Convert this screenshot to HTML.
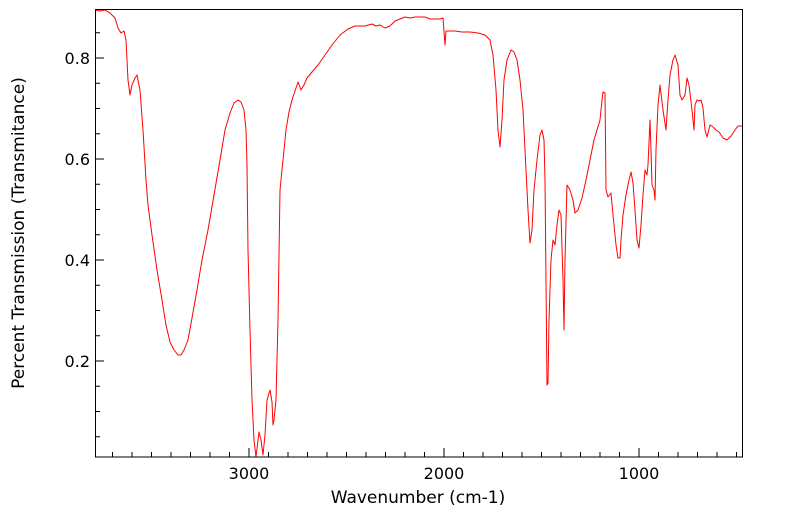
<!DOCTYPE html>
<html><head><meta charset="utf-8"><style>
body{margin:0;background:#fff}
svg{display:block;font-family:"DejaVu Sans","Liberation Sans",sans-serif}
</style></head><body>
<svg width="799" height="516" viewBox="0 0 799 516">
<rect width="799" height="516" fill="#fff"/>
<path stroke="#000" stroke-width="1" fill="none" d="
M112.5,457v-5 M132,457v-5 M151.5,457v-5 M171,457v-5 M190.5,457v-5 M210,457v-5 M229.5,457v-5 M249,457v-9 M268.5,457v-5 M288,457v-5 M307.5,457v-5 M327,457v-5 M346.5,457v-5 M366,457v-5 M385.5,457v-5 M405,457v-5 M424.5,457v-5 M444,457v-9 M463.5,457v-5 M483,457v-5 M502.5,457v-5 M522,457v-5 M541.5,457v-5 M561,457v-5 M580.5,457v-5 M600,457v-5 M619.5,457v-5 M639,457v-9 M658.5,457v-5 M678,457v-5 M697.5,457v-5 M717,457v-5 M736.5,457v-5
M95,436.75h5 M95,411.5h5 M95,386.25h5 M95,361h9 M95,335.75h5 M95,310.5h5 M95,285.25h5 M95,260h9 M95,234.75h5 M95,209.5h5 M95,184.25h5 M95,159h9 M95,133.75h5 M95,108.5h5 M95,83.25h5 M95,58h9 M95,32.75h5"/>
<polyline fill="none" stroke="#ff0000" stroke-width="1" stroke-linejoin="round" points="95,10 100,11 105,10 110,13 115,18 118,28 121,33 124,31 126,40 128,80 130,95 132,85 135,78 137,75 140,90 143,130 146,180 148,205 152,235 157,270 162,300 166,325 170,342 174,350 178,355 181,355 184,350 188,340 192,318 197,290 202,260 208,230 214,195 220,160 225,130 230,113 234,103 238,100 241,102 244,110 246,130 247,165 248,250 250,330 252,400 254,440 256,457 258,440 259,432 261,440 263,455 265,435 267,400 270,390 272,402 273,425 274,420 276,400 278,320 280,190 283,160 286,130 289,112 292,100 296,88 298,82 301,90 304,85 307,78 312,72 318,65 325,55 332,45 340,35 348,29 355,26 365,26 372,24 376,26 380,25 385,28 390,26 395,21 400,19 405,17 410,18 415,17 425,17 430,19 440,19 443,18 445,45 446,31 455,31 462,32 470,32 478,33 485,35 490,40 493,55 496,90 498,130 500,147 502,120 504,80 507,60 511,50 514,52 517,60 520,80 523,110 526,170 528,210 530,243 532,230 534,190 537,160 540,135 542,130 544,140 545,180 546,280 547,385 548,383 549,320 551,260 553,240 555,245 557,225 559,210 561,215 563,280 564,330 565,260 567,185 570,190 573,200 575,213 578,210 582,198 586,180 590,160 594,140 597,130 600,120 602,100 603,92 605,93 606,190 608,197 611,193 613,215 616,245 618,258 620,258 621,240 623,215 626,195 629,180 631,172 633,183 635,210 637,240 639,248 641,225 643,195 645,170 647,175 648,165 650,120 651,150 652,185 654,190 655,200 656,150 658,105 660,85 663,110 666,130 668,100 670,75 673,60 675,55 678,65 680,95 682,100 685,95 687,78 689,85 692,110 694,130 695,105 697,100 699,101 701,100 703,108 705,130 707,137 710,125 713,127 716,130 719,132 723,138 727,140 731,136 735,130 738,126 742,126"/>
<rect x="95.5" y="9.5" width="647" height="447.5" fill="none" stroke="#000" stroke-width="1"/>
<g font-size="16" fill="#000">
<text x="90" y="64" text-anchor="end">0.8</text>
<text x="90" y="165" text-anchor="end">0.6</text>
<text x="90" y="266" text-anchor="end">0.4</text>
<text x="90" y="367" text-anchor="end">0.2</text>
<text x="249" y="479" text-anchor="middle">3000</text>
<text x="444" y="479" text-anchor="middle">2000</text>
<text x="639" y="479" text-anchor="middle">1000</text>
<text x="418" y="503" text-anchor="middle" font-size="17">Wavenumber (cm-1)</text>
<text transform="translate(24,233) rotate(-90)" text-anchor="middle" font-size="17">Percent Transmission (Transmitance)</text>
</g>
</svg>
</body></html>
